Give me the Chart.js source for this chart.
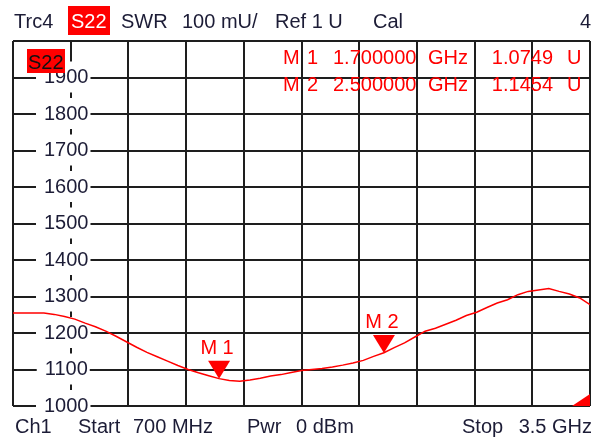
<!DOCTYPE html>
<html>
<head>
<meta charset="utf-8">
<script src="https://cdn.jsdelivr.net/npm/chart.js@4.4.0/dist/chart.umd.min.js"></script>
<style>
  html, body { margin: 0; padding: 0; background: #fff; }
  canvas { display: block; }
</style>
</head>
<body>
<canvas id="swr" width="604" height="439"></canvas>
<script>
// sweep 700 MHz .. 3.5 GHz, SWR trace in mU (100 mU / div)
const freqGHz = [
    0.70, 0.75, 0.80, 0.85, 0.90, 0.95, 1.00, 1.05, 1.10, 1.15,
    1.20, 1.25, 1.30, 1.35, 1.40, 1.45, 1.50, 1.55, 1.60, 1.65,
    1.70, 1.75, 1.80, 1.85, 1.90, 1.95, 2.00, 2.05, 2.10, 2.15,
    2.20, 2.25, 2.30, 2.35, 2.40, 2.45, 2.50, 2.55, 2.60, 2.65,
    2.70, 2.75, 2.80, 2.85, 2.90, 2.95, 3.00, 3.05, 3.10, 3.15,
    3.20, 3.25, 3.30, 3.35, 3.40, 3.45, 3.50
];
const swrMilli = [
    1255, 1255, 1255, 1255, 1251, 1245, 1238, 1227, 1217, 1205,
    1191, 1176, 1161, 1147, 1135, 1123, 1111, 1100, 1091, 1083,
    1075, 1070, 1068, 1071, 1076, 1082, 1086, 1092, 1097, 1100,
    1103, 1107, 1112, 1118, 1125, 1136, 1146, 1160, 1173, 1189,
    1205, 1213, 1224, 1235, 1248, 1257, 1270, 1282, 1291, 1305,
    1314, 1318, 1322, 1314, 1307, 1296, 1278
];

// vertical graticule (10 divisions)
const freqGrid = [0.70, 0.98, 1.26, 1.54, 1.82, 2.10, 2.38, 2.66, 2.94, 3.22, 3.50];

// markers
const markerNames = ['M 1', 'M 2'];
const markerNums = ['1', '2'];
const markerFreq = [1.7, 2.5];
const markerSwr = [1074.9, 1145.4];
const markerFreqText = ['1.700000', '2.500000'];
const markerSwrText = ['1.0749', '1.1454'];

const FONT = '20px "Liberation Sans", Arial, sans-serif';
const gridColor = '#1e1e1e';
const textColor = '#1c1c36';
const traceRed = '#ff0000';

const analyzerText = {
    id: 'analyzerText',
    beforeDraw(chart) {
        const ctx = chart.ctx;
        ctx.save();
        ctx.fillStyle = '#fff';
        ctx.fillRect(0, 0, chart.width, chart.height);
        ctx.restore();
    },
    afterDraw(chart) {
        const ctx = chart.ctx;
        const area = chart.chartArea;
        const xs = chart.scales.x;
        const ys = chart.scales.y;
        ctx.save();
        ctx.font = FONT;
        ctx.textBaseline = 'alphabetic';

        // header line
        ctx.fillStyle = textColor;
        ctx.textAlign = 'left';
        ctx.fillText('Trc4', 14, 28);
        ctx.fillStyle = traceRed;
        ctx.fillRect(68, 6, 42, 29);
        ctx.fillStyle = '#fff';
        ctx.fillText('S22', 71, 28);
        ctx.fillStyle = textColor;
        ctx.fillText('SWR', 121, 28);
        ctx.fillText('100 mU/', 182, 28);
        ctx.fillText('Ref 1 U', 275, 28);
        ctx.fillText('Cal', 373, 28);
        ctx.textAlign = 'right';
        ctx.fillText('4', 591, 28);

        // footer line
        ctx.textAlign = 'left';
        ctx.fillText('Ch1', 15, 433);
        ctx.fillText('Start', 78, 433);
        ctx.fillText('700 MHz', 133, 433);
        ctx.fillText('Pwr', 247, 433);
        ctx.fillText('0 dBm', 296, 433);
        ctx.fillText('Stop', 462, 433);
        ctx.textAlign = 'right';
        ctx.fillText('3.5 GHz', 592, 433);

        // trace label box inside the graticule
        ctx.fillStyle = traceRed;
        ctx.fillRect(27, 49, 38, 24);
        ctx.fillStyle = '#111';
        ctx.textAlign = 'left';
        ctx.fillText('S22', 28, 69);

        // marker readout
        ctx.fillStyle = traceRed;
        for (let i = 0; i < markerNames.length; i++) {
            const base = 64 + i * 27;
            ctx.textAlign = 'left';
            ctx.fillText('M', 283, base);
            ctx.fillText(markerNums[i], 307, base);
            ctx.fillText(markerFreqText[i], 333, base);
            ctx.fillText('GHz', 428, base);
            ctx.textAlign = 'right';
            ctx.fillText(markerSwrText[i], 553, base);
            ctx.textAlign = 'left';
            ctx.fillText('U', 567, base);
        }

        // marker triangles on the trace
        for (let i = 0; i < markerNames.length; i++) {
            const px = xs.getPixelForValue(markerFreq[i]);
            const py = ys.getPixelForValue(markerSwr[i]);
            ctx.beginPath();
            ctx.moveTo(px - 11, py - 18);
            ctx.lineTo(px + 11, py - 18);
            ctx.lineTo(px, py);
            ctx.closePath();
            ctx.fill();
            ctx.textAlign = 'center';
            ctx.fillText(markerNames[i], px - 2, py - 25);
        }

        // sweep end flag in the corner
        ctx.beginPath();
        ctx.moveTo(area.right - 18, area.bottom);
        ctx.lineTo(area.right, area.bottom);
        ctx.lineTo(area.right, area.bottom - 12);
        ctx.closePath();
        ctx.fill();
        ctx.restore();
    }
};

new Chart(document.getElementById('swr'), {
    type: 'line',
    data: {
        datasets: [{
            label: 'S22 SWR',
            data: freqGHz.map((f, i) => ({ x: f, y: swrMilli[i] })),
            borderColor: traceRed,
            borderWidth: 1.5,
            pointRadius: 0,
            tension: 0,
            fill: false
        }]
    },
    options: {
        responsive: false,
        animation: false,
        devicePixelRatio: 1,
        layout: { padding: { left: 13, top: 41, right: 14, bottom: 33 } },
        plugins: {
            legend: { display: false },
            tooltip: { enabled: false }
        },
        scales: {
            x: {
                type: 'linear',
                min: 0.7,
                max: 3.5,
                border: { display: false },
                grid: { color: gridColor, lineWidth: 2, drawTicks: false },
                ticks: { display: false },
                afterBuildTicks: s => { s.ticks = freqGrid.map(v => ({ value: v })); }
            },
            y: {
                min: 1000,
                max: 2000,
                border: { display: false },
                grid: { color: gridColor, lineWidth: 2, drawTicks: false },
                ticks: {
                    stepSize: 100,
                    mirror: true,
                    crossAlign: 'center',
                    padding: 31,
                    color: textColor,
                    font: { family: '"Liberation Sans", Arial, sans-serif', size: 20 },
                    showLabelBackdrop: true,
                    backdropColor: c => c.tick && c.tick.value === 2000 ? 'rgba(0,0,0,0)' : '#fff',
                    backdropPadding: { top: 4, bottom: 3, left: 8, right: 2 },
                    callback: v => v === 2000 ? '' : String(v)
                },
                // labels sit inside the graticule, so the axis takes no room
                afterFit: s => { s.width = 0; s.paddingTop = 0; s.paddingBottom = 0; }
            }
        }
    },
    plugins: [analyzerText]
});
</script>
</body>
</html>
